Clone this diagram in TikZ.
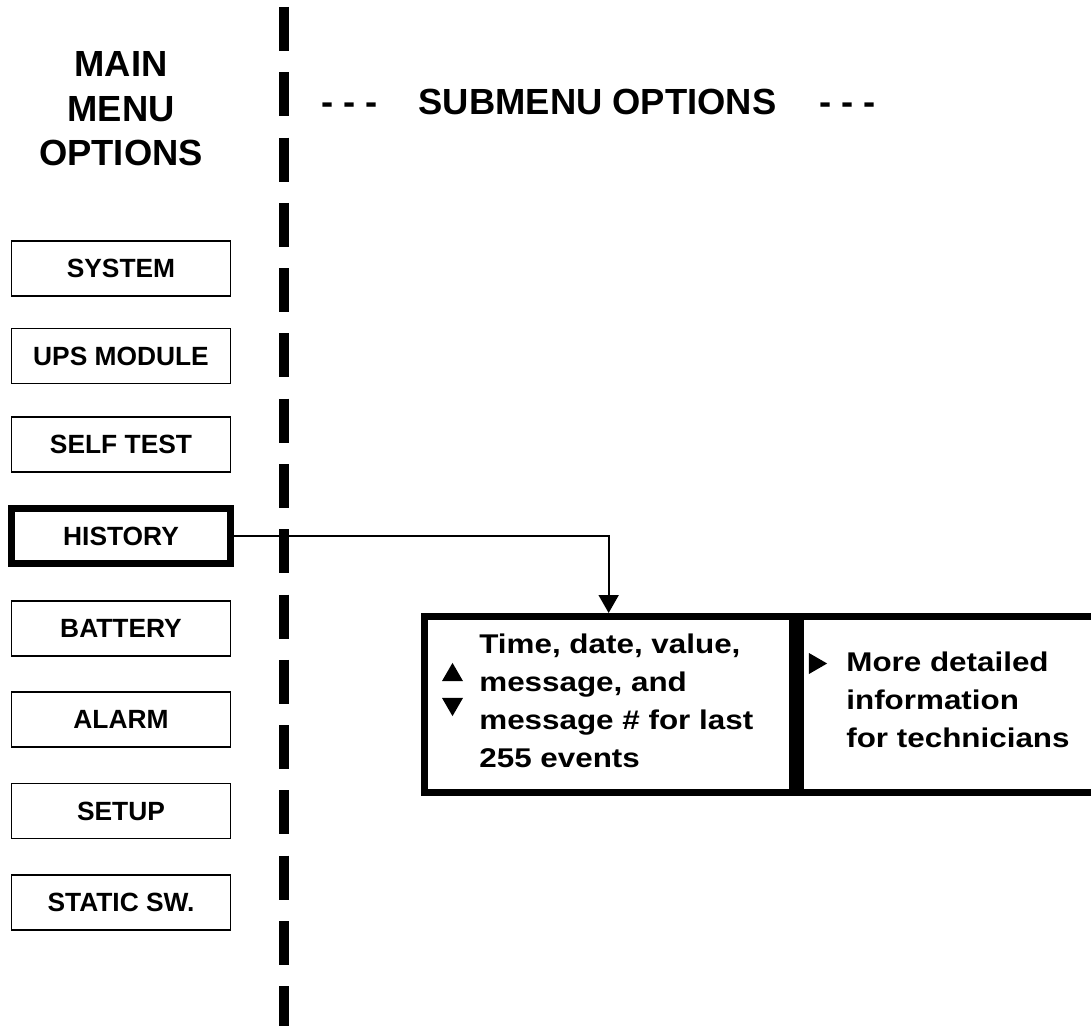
\documentclass[tikz,border=0pt]{standalone}
\usepackage{fontspec}
\setmainfont{Liberation Sans}
\newfontfamily\widefont{Liberation Sans}[FakeStretch=1.16]
\usetikzlibrary{arrows.meta, positioning, shapes.geometric}

\begin{document}
\begin{tikzpicture}[
    x=0.02cm, y=-0.02cm,
    every node/.style={font=\bfseries},
    heading/.style={font=\fontsize{20.7}{25.4}\selectfont\bfseries, align=center, inner sep=0pt},
    menubox/.style={rectangle, draw, line width=1.1pt, minimum width=4.38cm, minimum height=1.1cm, font=\fontsize{15}{18}\selectfont\bfseries},
    chosen/.style={menubox, line width=4.2pt},
    subbox/.style={rectangle, draw, line width=4.2pt, minimum height=3.52cm, anchor=north west, inner sep=0pt},
    subtext/.style={font=\widefont\fontsize{15.4}{21.5}\selectfont\bfseries, align=left, inner sep=0pt, anchor=base west},
    marker/.style={regular polygon, regular polygon sides=3, fill, inner sep=0pt, minimum size=0.485cm},
    divider/.style={line width=6.2pt, dash pattern=on 0.88cm off 0.426cm},
    link/.style={-{Triangle[length=3.6mm, width=4mm]}, line width=1.1pt}
]
\useasboundingbox (0,0) rectangle (1091,1026);

% Headings
\node[heading, anchor=base] (mainhead) at (121,166) {MAIN\\MENU\\OPTIONS};
\node[heading, anchor=base] (subhead) at (597.5,115) {SUBMENU OPTIONS};
\node[heading, base left=0.8cm of subhead] (dashl) {- - -};
\node[heading, base right=0.84cm of subhead] (dashr) {- - -};

% Separator between main menu and submenus
\coordinate (sepTop) at (284,7);
\coordinate (sepBot) at (284,1030);
\draw[divider] (sepTop) -- (sepBot);

% Main menu options
\node[menubox] (sys)   at (121,268.5) {SYSTEM};
\node[menubox] (ups)   at (121,356)   {UPS MODULE};
\node[menubox] (test)  at (121,444.5) {SELF TEST};
\node[chosen]  (hist)  at (121,536)   {HISTORY};
\node[menubox] (batt)  at (121,628.5) {BATTERY};
\node[menubox] (alarm) at (121,719.5) {ALARM};
\node[menubox] (setup) at (121,811)   {SETUP};
\node[menubox] (sw)    at (121,902.5) {STATIC SW.};

% History submenu
\node[subbox, minimum width=7.36cm] (histsub) at (421,613) {};
\begin{scope}
  \clip (0,0) rectangle (1091,1026);
  \node[subbox, minimum width=6.3cm] (techsub) at (histsub.north east) {};
\end{scope}
\node[subtext] (histtext) at (479,767) {Time, date, value,\\message, and\\message \# for last\\255 events};
\node[subtext] (techtext) at (846,747) {More detailed\\information\\for technicians};
\node[marker] (up)   at (452.5,675) {};
\node[marker, rotate=180] (down) at (452.5,704) {};
\node[marker, rotate=-90] (more) at (815,663.5) {};

\draw[link] (hist.east) -| (histsub.north);
\end{tikzpicture}
\end{document}
